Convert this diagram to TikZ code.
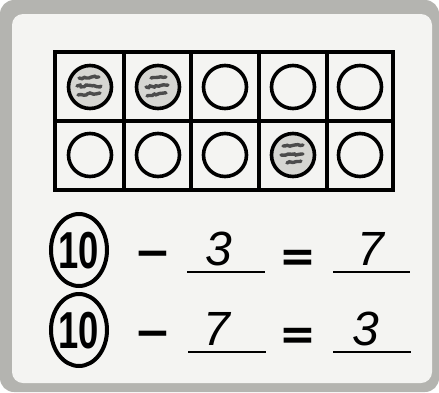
\documentclass[tikz,border=0pt]{standalone}
\usepackage{fontspec}
\setmainfont{Liberation Sans}
\newfontfamily\signfont{DejaVu Sans}
\usetikzlibrary{shapes.geometric, decorations.pathmorphing}

\definecolor{frame_gray}{HTML}{B4B4B0}
\definecolor{panel_white}{HTML}{F4F4F2}
\definecolor{chip_gray}{HTML}{D6D6D2}

\begin{document}
\begin{tikzpicture}[x=1pt, y=-1pt,
    % counter circles in the ten-frame
    counter/.style={
        circle,
        draw,
        line width=3.6pt,
        minimum size=43pt,
        inner sep=0pt
    },
    counter_filled/.style={counter, fill=chip_gray},
    % scribble marks inside a filled counter
    scribble/.style={
        line width=3.4pt,
        black!70,
        line cap=round,
        decorate,
        decoration={random steps, segment length=2.5pt, amplitude=1pt}
    },
    grid_line/.style={line width=3.2pt},
    % numbers of the sentences
    digit_text/.style={inner sep=0pt, anchor=base, font=\fontsize{48}{48}\selectfont\itshape},
    sign_text/.style={inner sep=0pt, font=\signfont\fontsize{44}{44}\selectfont\bfseries},
    circled_num/.style={
        ellipse,
        draw,
        line width=4pt,
        minimum width=56pt,
        minimum height=72pt,
        inner sep=0pt
    },
    num_text/.style={inner sep=0pt, anchor=base, xscale=0.7, font=\fontsize{52}{52}\selectfont\bfseries},
    answer_line/.style={line width=2.8pt}
]
    \useasboundingbox (0,0) rectangle (439,392);

    % ================== card ==================
    \fill[frame_gray, rounded corners=14pt] (0,0) rectangle (439,392);
    \fill[panel_white, rounded corners=11pt] (12,14) rectangle (432,383);

    % ================== ten-frame ==================
    \draw[grid_line] (55,52) rectangle (393,190);
    \draw[grid_line] (55,121) -- (393,121);
    \draw[grid_line] (124,52) -- (124,190);
    \draw[grid_line] (191,52) -- (191,190);
    \draw[grid_line] (259,52) -- (259,190);
    \draw[grid_line] (327,52) -- (327,190);

    % top row
    \node[counter_filled] (cell_a1) at (90,87) {};
    \node[counter_filled] (cell_a2) at (158,87) {};
    \node[counter] (cell_a3) at (225,87) {};
    \node[counter] (cell_a4) at (293,87) {};
    \node[counter] (cell_a5) at (360,87) {};
    % bottom row
    \node[counter] (cell_b1) at (90,155) {};
    \node[counter] (cell_b2) at (158,155) {};
    \node[counter] (cell_b3) at (225,155) {};
    \node[counter_filled] (cell_b4) at (293,155) {};
    \node[counter] (cell_b5) at (360,155) {};

    % scribbles on the filled counters
    \draw[scribble] ([shift={(-11,-9)}]cell_a1.center) -- ++(20,-1);
    \draw[scribble] ([shift={(-13,-1)}]cell_a1.center) -- ++(24,0);
    \draw[scribble] ([shift={(-12,8)}]cell_a1.center) -- ++(22,-2);
    \draw[scribble] ([shift={(-7,-9)}]cell_a2.center) -- ++(15,-1);
    \draw[scribble] ([shift={(-12,0)}]cell_a2.center) -- ++(22,-2);
    \draw[scribble] ([shift={(-11,9)}]cell_a2.center) -- ++(19,-3);
    \draw[scribble] ([shift={(-10,-9)}]cell_b4.center) -- ++(20,-1);
    \draw[scribble] ([shift={(-12,0)}]cell_b4.center) -- ++(22,-1);
    \draw[scribble] ([shift={(-6,8)}]cell_b4.center) -- ++(14,-2);

    % ================== first sentence ==================
    \node[circled_num] (ten_one) at (79,250) {};
    \node[num_text] (ten_one_text) at (79,268) {10};
    \node[sign_text] (minus_one) at (153,259) {−};
    \node[digit_text] (sub_one) at (219,265) {3};
    \node[sign_text] (equal_one) at (298,261) {=};
    \node[digit_text] (diff_one) at (371,265) {7};
    \coordinate (line_a_start) at (187,272);
    \coordinate (line_a_end) at (265,272);
    \coordinate (line_b_start) at (333,272);
    \coordinate (line_b_end) at (410,272);
    \draw[answer_line] (line_a_start) -- (line_a_end);
    \draw[answer_line] (line_b_start) -- (line_b_end);

    % ================== second sentence ==================
    \node[circled_num] (ten_two) at (79,330) {};
    \node[num_text] (ten_two_text) at (79,348) {10};
    \node[sign_text] (minus_two) at (153,339) {−};
    \node[digit_text] (sub_two) at (217,345) {7};
    \node[sign_text] (equal_two) at (298,339) {=};
    \node[digit_text] (diff_two) at (366,345) {3};
    \coordinate (line_c_start) at (188,352);
    \coordinate (line_c_end) at (266,352);
    \coordinate (line_d_start) at (333,352);
    \coordinate (line_d_end) at (411,352);
    \draw[answer_line] (line_c_start) -- (line_c_end);
    \draw[answer_line] (line_d_start) -- (line_d_end);

\end{tikzpicture}
\end{document}
